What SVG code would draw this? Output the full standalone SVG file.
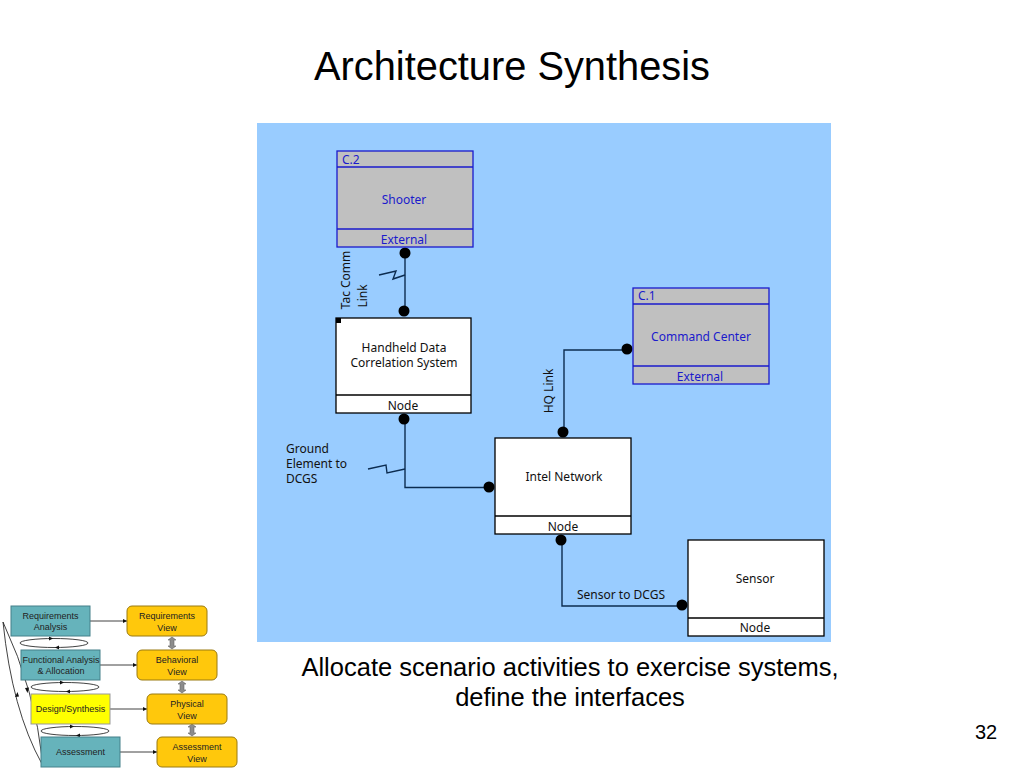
<svg xmlns="http://www.w3.org/2000/svg" width="1024" height="768" viewBox="0 0 1024 768">
<style>
text{font-family:"Noto Sans","DejaVu Sans",sans-serif;font-size:12px;fill:#111;text-anchor:middle}
.t{font-family:"Liberation Sans",Arial,sans-serif;fill:#000}
.b{fill:#1a1acc}
.l{text-anchor:start}
.ext{fill:#c0c0c0;stroke:#1a1acc;stroke-width:1.3}
.nd{fill:#fff;stroke:#000;stroke-width:1.3}
.c{fill:none;stroke:#0c2c50;stroke-width:1.4}
.d{fill:#000}
.s{font-family:"Liberation Sans",Arial,sans-serif;font-size:9px;fill:#222}
.teal{fill:#66b3bb;stroke:#44808a;stroke-width:1}
.yel{fill:#ffff00;stroke:#999;stroke-width:1}
.or{fill:#ffc80c;stroke:#9a7a10;stroke-width:1}
.m{fill:none;stroke:#111;stroke-width:.8}
.ma{fill:#111}
.ud{fill:#8c8c8c;stroke:#666;stroke-width:.6}
</style>
<rect width="1024" height="768" fill="#fff"/>
<text class="t" x="512" y="80" style="font-size:39.800px">Architecture Synthesis</text>
<rect x="257" y="123" width="574" height="519" fill="#99ccff"/>
<g id="connectors">
<path class="c" d="M405 253V311"/>
<path class="c" d="M379 275L396 271L393 279L405 275"/>
<path class="c" d="M405 419V487.500H489"/>
<path class="c" d="M368 469L386 465L387 473L405 469"/>
<path class="c" d="M564 432V350H627"/>
<path class="c" d="M562 540V606H682"/>
<circle class="d" cx="405" cy="253" r="5.500"/>
<circle class="d" cx="404" cy="311" r="5.500"/>
<circle class="d" cx="404" cy="419" r="5.500"/>
<circle class="d" cx="489" cy="487" r="5.500"/>
<circle class="d" cx="563" cy="432" r="5.500"/>
<circle class="d" cx="627" cy="349" r="5.500"/>
<circle class="d" cx="561" cy="540" r="5.500"/>
<circle class="d" cx="682" cy="605" r="5.500"/>
<text class="l" x="286" y="453">Ground</text>
<text class="l" x="286" y="468">Element to</text>
<text class="l" x="286" y="483">DCGS</text>
<text transform="translate(350,280) rotate(-90)">Tac Comm</text>
<text transform="translate(367,296) rotate(-90)">Link</text>
<text transform="translate(553,391) rotate(-90)">HQ Link</text>
<text x="621" y="599">Sensor to DCGS</text>
</g>
<g id="shooter">
<rect class="ext" x="337" y="151" width="136" height="96"/>
<path class="ext" d="M337 167H473M337 229H473"/>
<text class="b l" x="342" y="164">C.2</text>
<text class="b" x="404" y="204">Shooter</text>
<text class="b" x="404" y="244">External</text>
</g>
<g id="handheld">
<rect class="nd" x="336" y="318" width="135" height="95"/>
<path class="nd" d="M336 395H471"/>
<rect x="336" y="318" width="5" height="5" fill="#000"/>
<text x="404" y="352">Handheld Data</text>
<text x="404" y="367">Correlation System</text>
<text x="403" y="410">Node</text>
</g>
<g id="intel">
<rect class="nd" x="495" y="438" width="136" height="96"/>
<path class="nd" d="M495 516H631"/>
<text x="564" y="481">Intel Network</text>
<text x="563" y="531">Node</text>
</g>
<g id="command">
<rect class="ext" x="633" y="288" width="136" height="96"/>
<path class="ext" d="M633 304H769M633 366H769"/>
<text class="b l" x="638" y="300">C.1</text>
<text class="b" x="701" y="341">Command Center</text>
<text class="b" x="700" y="381">External</text>
</g>
<g id="sensor">
<rect class="nd" x="688" y="540" width="136" height="96"/>
<path class="nd" d="M688 618H824"/>
<text x="755" y="583">Sensor</text>
<text x="755" y="632">Node</text>
</g>
<text class="t" x="570" y="676" style="font-size:25.500px">Allocate scenario activities to exercise systems,</text>
<text class="t" x="570" y="706" style="font-size:25.500px">define the interfaces</text>
<text class="t" x="986" y="739" style="font-size:20px">32</text>
<g id="mini-connectors">
<ellipse class="m" cx="54" cy="643" rx="34" ry="4.500"/>
<ellipse class="m" cx="65" cy="687" rx="34" ry="4.500"/>
<ellipse class="m" cx="75" cy="731" rx="34" ry="4.500"/>
<path class="ma" d="M53 638.500l-4-2v4zM55 647.500l4-2v4zM64 682.500l-4-2v4zM66 691.500l4-2v4zM74 726.500l-4-2v4zM76 735.500l4-2v4z"/>
<path class="m" d="M3 622Q12 710 42 764M3 622Q35 690 43 764"/>
<path class="ma" d="M17.500 692l-2.500 5 4-.5zM27.500 693l-2.500-5 4-.5z"/>
<path class="m" d="M90 621H127M100 665H137M110 709H147M120 752H157"/>
<path class="ma" d="M127 621l-4-2v4zM137 665l-4-2v4zM147 709l-4-2v4zM157 752l-4-2v4z"/>
<path class="ud" d="M172 637l4 3h-2v6h2l-4 3-4-3h2v-6h-2zM182 681l4 3h-2v6h2l-4 3-4-3h2v-6h-2zM192 724l4 3h-2v6h2l-4 3-4-3h2v-6h-2z"/>
</g>
<g id="req-analysis"><rect class="teal" x="11" y="606" width="79" height="30"/><text class="s" x="50.500" y="619">Requirements</text><text class="s" x="50.500" y="630">Analysis</text></g>
<g id="func-analysis"><rect class="teal" x="21" y="650" width="79" height="30"/><text class="s" x="61" y="663">Functional Analysis</text><text class="s" x="61" y="674">&amp; Allocation</text></g>
<g id="design"><rect class="yel" x="31" y="694" width="79" height="30"/><text class="s" x="70.500" y="712">Design/Synthesis</text></g>
<g id="assessment"><rect class="teal" x="41" y="737" width="79" height="30"/><text class="s" x="80.500" y="755">Assessment</text></g>
<g id="req-view"><rect class="or" x="127" y="606" width="80" height="30" rx="5"/><text class="s" x="167" y="619">Requirements</text><text class="s" x="167" y="631">View</text></g>
<g id="beh-view"><rect class="or" x="137" y="650" width="80" height="30" rx="5"/><text class="s" x="177" y="663">Behavioral</text><text class="s" x="177" y="675">View</text></g>
<g id="phys-view"><rect class="or" x="147" y="694" width="80" height="30" rx="5"/><text class="s" x="187" y="707">Physical</text><text class="s" x="187" y="719">View</text></g>
<g id="ass-view"><rect class="or" x="157" y="737" width="80" height="30" rx="5"/><text class="s" x="197" y="750">Assessment</text><text class="s" x="197" y="762">View</text></g>
</svg>
